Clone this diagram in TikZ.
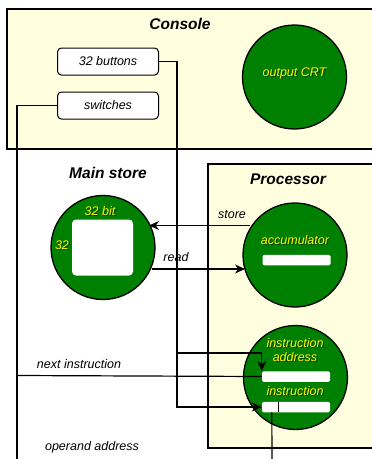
\documentclass[tikz,border=0pt]{standalone}
\usepackage{fontspec}
\setmainfont{Liberation Sans}
\usetikzlibrary{arrows.meta}

\definecolor{paleyellow}{RGB}{255,255,224}
\definecolor{darkgreen}{RGB}{0,128,0}

\tikzset{
	unit/.style={draw, fill=paleyellow, line width=1.2pt},
	title/.style={font=\bfseries\itshape\fontsize{15.5}{16}\selectfont},
	lbl/.style={font=\itshape\fontsize{12.5}{14}\selectfont},
	ylbl/.style={lbl, text=yellow, align=center},
	yshadow/.style={lbl, text=black, opacity=0.45, align=center, xshift=1.3pt, yshift=-1.3pt},
	blob/.style={circle, draw, line width=1.3pt, fill=darkgreen, minimum size=104pt, inner sep=0pt},
	key/.style={lbl, draw, rounded corners=4pt, fill=white, line width=1pt, minimum width=101pt, minimum height=27pt},
	reg/.style={fill=white, rounded corners=1.5pt, minimum width=68pt, minimum height=10.5pt, inner sep=0pt},
	wire/.style={line width=1.2pt},
	arr/.style={wire, -{Stealth[length=10pt,width=9pt]}}
}

% yellow text with its dark shadow
\newcommand{\glowtext}[2]{
	\node[yshadow] at (#1) {#2};
	\node[ylbl] at (#1) {#2};
}

\begin{document}
\begin{tikzpicture}[x=1pt,y=-1pt]
\useasboundingbox (0,0) rectangle (372,459);

% boxes
\draw[unit] (7,9) rectangle (390,149);
\draw[unit] (208,164) rectangle (390,448);
\node[title] at (180,24) {Console};
\node[title] at (288,179) {Processor};
\node[title] at (108,173) {Main store};

% console
\node[key] (buttons) at (108,61.5) {32 buttons};
\node[key] (switches) at (108,105.5) {switches};
\node[blob] (crt) at (294.5,77) {};
\glowtext{294.5,73}{output CRT}

% main store
\node[blob] (store) at (103,247.5) {};
\node[fill=white, rounded corners=4pt, minimum width=61pt, minimum height=56pt, inner sep=0pt] (cells) at (102.5,247.5) {};
\glowtext{100,211}{32 bit}
\glowtext{62,245}{32}

% processor
\node[blob] (acc) at (295,255) {};
\glowtext{295,240}{accumulator}
\node[reg] (accreg) at (296.5,260) {};

\node[blob] (ctl) at (295.5,377.5) {};
\glowtext{295,350}{instruction\\address}
\node[reg] (iareg) at (296,376.5) {};
\glowtext{295,391}{instruction}
\node[reg] (ireg) at (296,407) {};
\draw[line width=0.8pt] (ireg.north west) ++(17,0) -- ++(0,10.5);

% connectors
\coordinate (bt) at (177,61.5);
\coordinate (sw) at (17,105.5);
\draw[wire] (buttons.east) -- (bt) -- (177,407) -- (258,407);
\draw[arr] (ireg.west) ++(-18,0) -- (ireg.west);
\draw[arr] (177,353) -| (iareg.north west);
\draw[wire] (switches.west) -- (sw) -- (17,459);
\draw[wire] (17,375.5) -- (iareg.west);
\draw[wire] (ireg.south west) ++(10,0) -- (272,459);

\draw[arr] (acc.west |- 0,225.5) ++(8,0) -- (149,225.5);
\draw[arr] (152,269) -- (245,269);

\node[lbl] at (232,215) {store};
\node[lbl] at (176,257) {read};
\node[lbl] at (79,364) {next instruction};
\node[lbl] at (92,447) {operand address};
\end{tikzpicture}
\end{document}
